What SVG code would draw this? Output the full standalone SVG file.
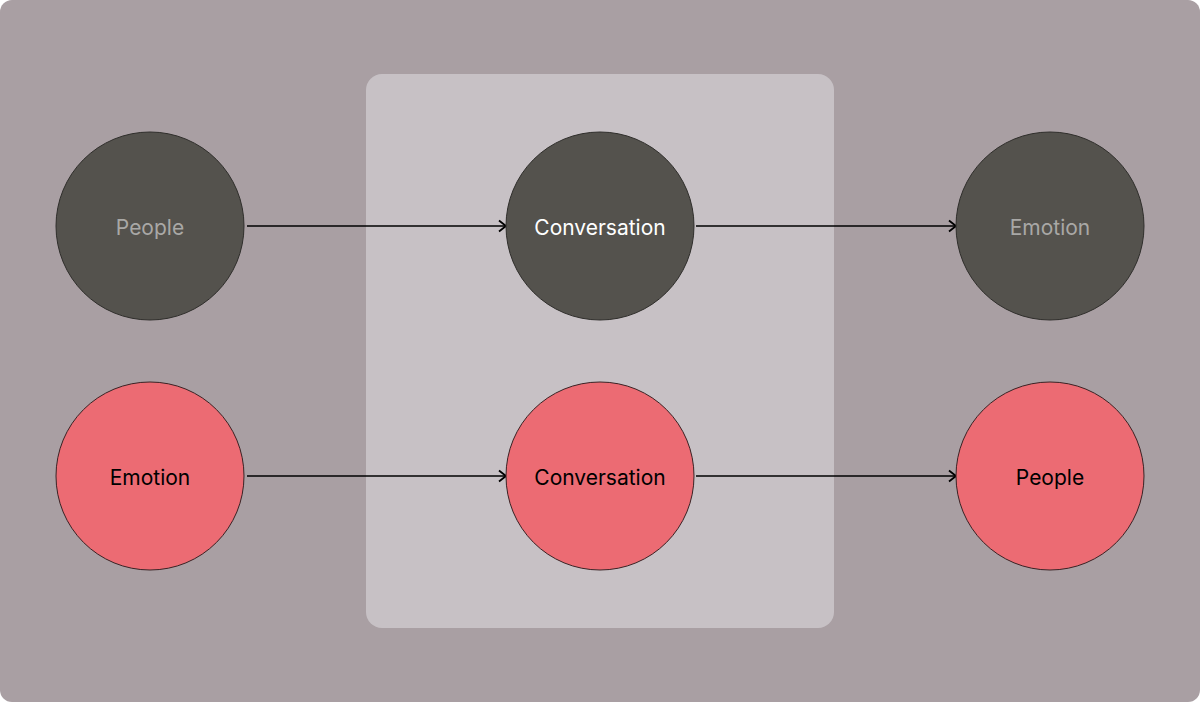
<svg xmlns="http://www.w3.org/2000/svg" width="1200" height="702" viewBox="0 0 1200 702">
<defs>
<marker id="arr" viewBox="0 0 12 14" refX="10" refY="7" markerWidth="12" markerHeight="14" markerUnits="userSpaceOnUse" orient="auto">
<path d="M3,1.5 L10,7 L3,12.5" fill="none" stroke="#000" stroke-width="1.8"/>
</marker>
<style>
.dark{fill:#54524d;stroke:#2f2e2b;stroke-width:1}
.red{fill:#ec6b73;stroke:#3a2224;stroke-width:1}
.t{font-family:Inter,"Liberation Sans",sans-serif;font-size:21px;font-weight:400;text-anchor:middle;dominant-baseline:central}
.muted{fill:#a9a8a6}
.white{fill:#ffffff}
.black{fill:#000000}
.edge{stroke:#000;stroke-width:1.7;fill:none;marker-end:url(#arr)}
</style>
</defs>
<rect x="0" y="0" width="1200" height="702" rx="12" fill="#a99fa3"/>
<rect id="panel" x="366" y="74" width="468" height="554" rx="16" fill="#c7c1c5"/>
<g id="connectors">
<line class="edge" x1="247" y1="226" x2="506" y2="226"/>
<line class="edge" x1="696" y1="226" x2="956" y2="226"/>
<line class="edge" x1="247" y1="476" x2="506" y2="476"/>
<line class="edge" x1="696" y1="476" x2="956" y2="476"/>
</g>
<g id="n-people-top"><circle class="dark" cx="150" cy="226" r="94"/><text class="t muted" x="150" y="227">People</text></g>
<g id="n-conv-top"><circle class="dark" cx="600" cy="226" r="94"/><text class="t white" x="600" y="227">Conversation</text></g>
<g id="n-emotion-top"><circle class="dark" cx="1050" cy="226" r="94"/><text class="t muted" x="1050" y="227">Emotion</text></g>
<g id="n-emotion-bottom"><circle class="red" cx="150" cy="476" r="94"/><text class="t black" x="150" y="477">Emotion</text></g>
<g id="n-conv-bottom"><circle class="red" cx="600" cy="476" r="94"/><text class="t black" x="600" y="477">Conversation</text></g>
<g id="n-people-bottom"><circle class="red" cx="1050" cy="476" r="94"/><text class="t black" x="1050" y="477">People</text></g>
</svg>
